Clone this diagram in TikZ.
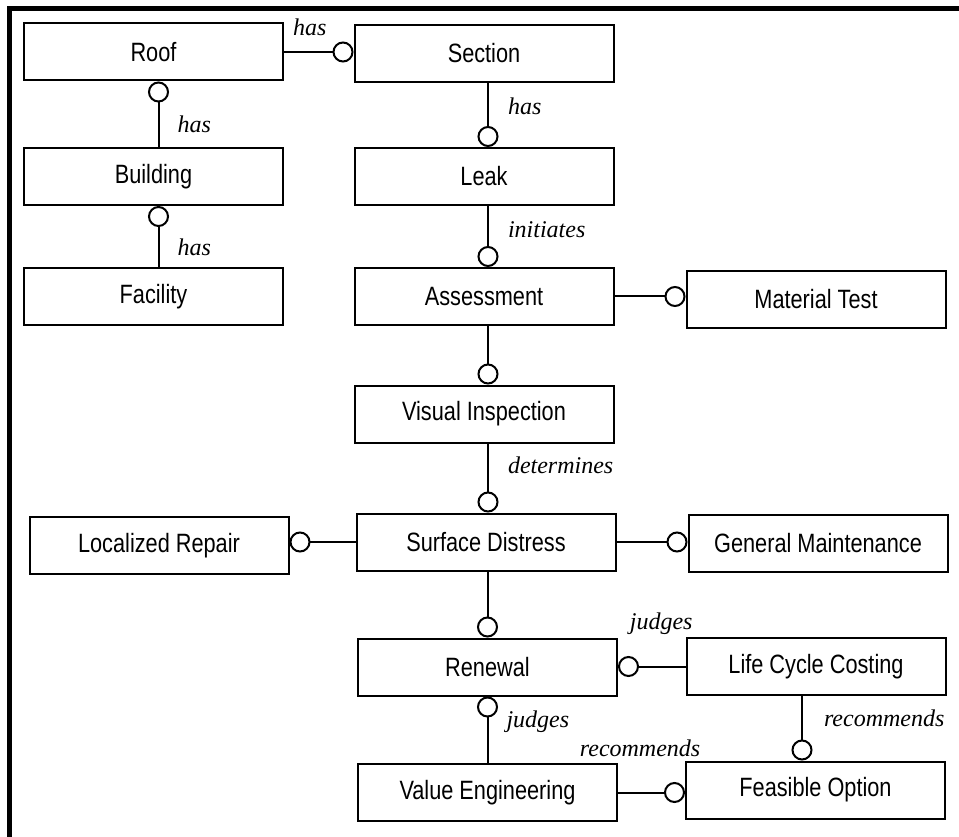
\documentclass[tikz,border=0pt]{standalone}
\usepackage{fontspec}
\setmainfont{Liberation Serif}
\newfontfamily\boxfont[FakeStretch=0.82]{Liberation Sans}
\usetikzlibrary{arrows.meta}

\tikzset{
  entity/.style={draw, line width=2pt, minimum width=259pt, minimum height=57pt,
    inner sep=0pt, font=\boxfont\fontsize{26.5}{30}\selectfont},
  rel/.style={line width=2pt, -{Circle[open, length=21pt, width=21pt]}},
  lbl/.style={font=\itshape\fontsize{24}{28}\selectfont, inner sep=2pt}
}

\begin{document}
\begin{tikzpicture}[x=1pt,y=-1pt]
  \useasboundingbox (0,0) rectangle (959,837);

  % Frame
  \draw[line width=5pt] (9,837) -- (9,9) -- (959,9);

  % Entities
  \node[entity] (roof) at (153.5,52) {Roof};
  \node[entity] (section) at (484,53.5) {Section};
  \node[entity] (building) at (153.5,176.5) {Building};
  \node[entity] (leak) at (484,176.5) {Leak};
  \node[entity] (facility) at (153.5,296.5) {Facility};
  \node[entity] (assessment) at (484,296.5) {Assessment};
  \node[entity] (materialtest) at (816,299.5) {Material Test};
  \node[entity] (visual) at (484,414) {Visual Inspection};
  \node[entity] (surface) at (486,542) {Surface Distress};
  \node[entity] (localized) at (159,545.5) {Localized Repair};
  \node[entity] (general) at (818,543.5) {General Maintenance};
  \node[entity] (renewal) at (487.5,667) {Renewal};
  \node[entity] (lcc) at (816,666.5) {Life Cycle Costing};
  \node[entity] (ve) at (487.5,792.5) {Value Engineering};
  \node[entity] (feasible) at (815.5,790) {Feasible Option};

  % Relations
  \draw[rel] (roof.east) -- (roof.east -| section.west) node[lbl, above=13pt, pos=0.37] {has};
  \draw[rel] ([xshift=5pt]building.north) -- ([xshift=5pt]roof.south) node[lbl, right=16pt, pos=0.34] {has};
  \draw[rel] ([xshift=5pt]facility.north) -- ([xshift=5pt]building.south) node[lbl, right=16pt, pos=0.33] {has};
  \draw[rel] ([xshift=4pt]section.south) -- ([xshift=4pt]leak.north) node[lbl, right=17pt, pos=0.36] {has};
  \draw[rel] ([xshift=4pt]leak.south) -- ([xshift=4pt]assessment.north) node[lbl, right=17pt, pos=0.38] {initiates};
  \draw[rel] (assessment.east) -- (assessment.east -| materialtest.west);
  \draw[rel] ([xshift=4pt]assessment.south) -- ([xshift=4pt]visual.north);
  \draw[rel] ([xshift=4pt]visual.south) -- ([xshift=4pt]visual.south |- surface.north) node[lbl, right=17pt, pos=0.32] {determines};
  \draw[rel] (surface.west) -- (surface.west -| localized.east);
  \draw[rel] (surface.east) -- (surface.east -| general.west);
  \draw[rel] (renewal.north |- surface.south) -- (renewal.north);
  \draw[rel] (lcc.west) -- (lcc.west -| renewal.east) node[lbl, above=29pt, pos=0.36] {judges};
  \draw[rel] (ve.north) -- (renewal.south) node[lbl, right=16pt, pos=0.625] {judges};
  \draw[rel] ([xshift=-14pt]lcc.south) -- ([xshift=-14pt]lcc.south |- feasible.north) node[lbl, right=19pt, pos=0.34] {recommends};
  \draw[rel] (ve.east) -- (ve.east -| feasible.west) node[lbl, above=33pt, pos=0.33] {recommends};
\end{tikzpicture}
\end{document}
